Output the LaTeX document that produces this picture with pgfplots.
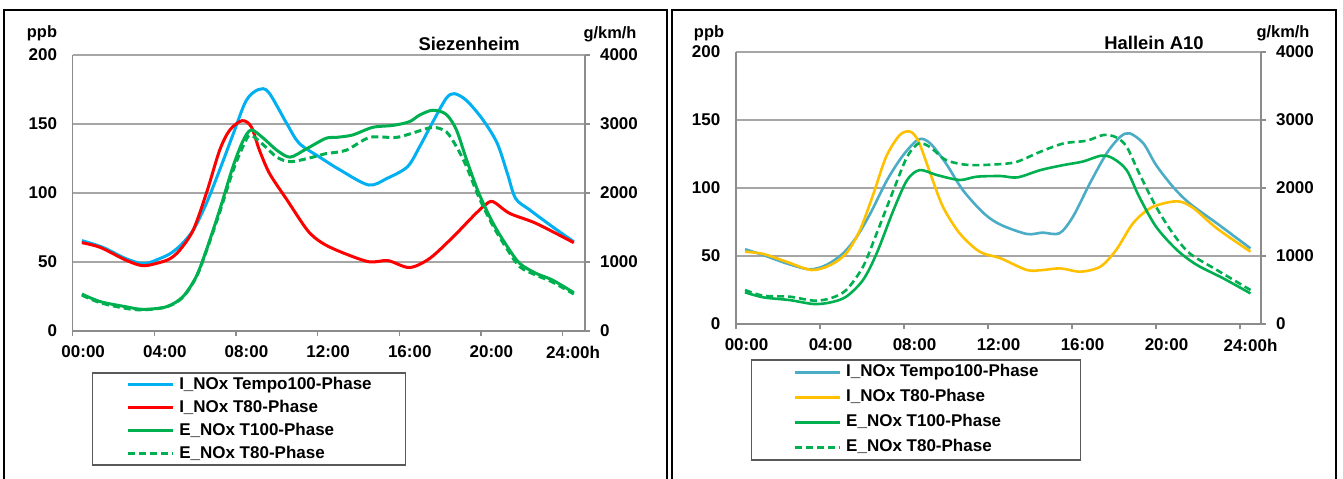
\documentclass[border=0pt]{standalone}
\usepackage{pgfplots}
\pgfplotsset{compat=1.18}
\usepackage{fontspec}
\setmainfont{Liberation Sans}

\definecolor{lblue}{HTML}{00B0F0}
\definecolor{lred}{HTML}{FF0000}
\definecolor{egreen}{HTML}{00B050}
\definecolor{rteal}{HTML}{4BACC6}
\definecolor{ryellow}{HTML}{FFC000}
\definecolor{axgray}{HTML}{8C8C8C}
\definecolor{grgray}{HTML}{A6A6A6}

\pgfplotsset{
  base/.style={
    scale only axis, xmin=0, ymin=0,
    tick label style={font=\bfseries\fontsize{8.5}{10}\selectfont},
    /pgf/number format/assume math mode=true,
    /pgf/number format/1000 sep={},
    axis line style={draw=axgray, line width=0.6pt},
    every tick/.style={draw=axgray, line width=0.6pt},
    major tick length=2.5pt,
    tick align=outside,
  },
  lower/.style={
    axis x line*=bottom, axis y line*=left,
    xtick={0,4,...,24},
    xticklabels={00:00,04:00,08:00,12:00,16:00,20:00,24:00h},
    xticklabel style={xshift=5.25pt, yshift=-1.5pt},
    ytick={0,50,...,200}, ymax=200,
    ytick style={draw=none},
    yticklabel style={xshift=-1.8pt},
    ymajorgrids, grid style={draw=grgray, line width=0.6pt},
  },
  upper/.style={
    axis x line=none, axis y line*=right,
    ytick={0,1000,...,4000}, ymax=4000,
    yticklabel style={xshift=1.5pt},
    legend cell align=left,
    legend image code/.code={\draw[##1] (0pt,0pt) -- (22.5pt,0pt); \path (25pt,0pt);},
  },
  sm/.style={smooth, tension=0.5},
}

\begin{document}
\begin{tikzpicture}
\path[use as bounding box] (0,0) rectangle (671.5pt,-239pt);
\draw[line width=1pt] (2pt,-240pt) -- (2pt,-5pt) -- (333.5pt,-5pt) -- (333.5pt,-240pt);
\draw[line width=1pt] (336pt,-240pt) -- (336pt,-5pt) -- (668pt,-5pt) -- (668pt,-240pt);

% ---------------- Siezenheim ----------------
\begin{axis}[base, lower, at={(36.35pt,-165.5pt)}, anchor=south west,
  width=256.15pt, height=138pt, xmax=25.1]
% I_NOx Tempo100-Phase
\addplot[draw=lblue, line width=1.5pt, sm] coordinates {
 (0.45,65.5) (1.5,60.5) (2.6,52.5) (3.5,48.8) (4.3,52.7) (4.8,56.3) (5.3,62.3) (5.9,73)
 (6.55,92.5) (7.2,116.7) (7.87,143) (8.5,167) (9.1,175) (9.6,173) (10.5,150) (11.1,136)
 (12.1,126) (13.1,116.7) (14.5,105.8) (15.4,110.6) (16.4,119) (17.0,133.6) (17.65,151.7)
 (18.3,168.6) (18.7,172) (19.3,167) (20.1,153) (20.8,136) (21.3,114) (21.7,96) (22.4,87.7)
 (23.5,75.6) (24.55,64.7)
};
% I_NOx T80-Phase
\addplot[draw=lred, line width=1.5pt, sm] coordinates {
 (0.45,64) (1.35,60.6) (2.6,51.4) (3.45,47.3) (4.3,49.8) (4.8,52.7) (5.25,58.7) (5.9,73)
 (6.55,99.8) (7.2,131) (7.7,145.7) (8.3,152.4) (8.75,148) (9.15,131) (9.65,114) (10.5,95)
 (11.5,73) (12.2,64) (13.1,57.5) (14.5,50.2) (15.45,51) (16.5,46) (17.5,52.7) (18.65,68.4)
 (19.6,82.9) (20.2,91.3) (20.6,93.7) (21.4,85.3) (22.7,78) (24.55,64)
};
\end{axis}

\begin{axis}[base, upper, at={(36.35pt,-165.5pt)}, anchor=south west,
  width=256.15pt, height=138pt, xmax=25.1,
  legend style={at={(0.037,-0.15)}, anchor=north west,
    draw=gray!70!black, line width=0.6pt, fill=white,
    inner xsep=17pt, inner ysep=1.5pt, row sep=3pt,
    font=\bfseries\fontsize{8.5}{10}\selectfont,
    nodes={inner sep=0pt, text height=6.5pt, text depth=2pt}}]
\addlegendimage{draw=lblue, line width=1.5pt}
\addlegendentry{I\_NOx Tempo100-Phase}
\addlegendimage{draw=lred, line width=1.5pt}
\addlegendentry{I\_NOx T80-Phase}
% E_NOx T100-Phase (g/km/h)
\addplot[draw=egreen, line width=1.5pt, sm] coordinates {
 (0.45,536) (1.35,426) (2.6,352) (3.45,314) (4.6,352) (5.4,498) (6.05,788) (6.55,1174)
 (7.2,1754) (7.85,2380) (8.35,2760) (8.75,2914) (9.35,2792) (10,2620) (10.65,2520)
 (11.45,2640) (12.4,2792) (12.9,2806) (13.7,2840) (14.7,2952) (15.7,2980) (16.5,3034)
 (17.0,3130) (17.65,3200) (18.3,3140) (18.8,2914) (19.3,2480) (19.9,1996) (20.6,1560)
 (21.3,1220) (21.9,980) (22.7,836) (23.5,740) (24.55,556)
};
\addlegendentry{E\_NOx T100-Phase}
% E_NOx T80-Phase (g/km/h)
\addplot[draw=egreen, line width=1.5pt, dash pattern=on 3.5pt off 2pt, sm] coordinates {
 (0.45,520) (1.35,410) (2.6,328) (3.45,306) (4.6,350) (5.4,490) (6.05,780) (6.55,1160)
 (7.2,1720) (7.85,2320) (8.35,2680) (8.7,2840) (9.35,2696) (10,2520) (10.65,2454)
 (11.5,2500) (12.4,2570) (13.4,2620) (14.55,2806) (15.86,2806) (16.85,2888) (17.65,2952)
 (18.3,2888) (18.8,2672) (19.3,2380) (19.9,1940) (20.6,1520) (21.3,1180) (21.9,932)
 (22.7,810) (23.5,710) (24.55,536)
};
\addlegendentry{E\_NOx T80-Phase}
\end{axis}

% ---------------- Hallein A10 ----------------
\begin{axis}[base, lower, at={(368pt,-162pt)}, anchor=south west,
  width=262.5pt, height=136pt, xmax=25]
% I_NOx Tempo100-Phase
\addplot[draw=rteal, line width=1.3pt, sm] coordinates {
 (0.43,55) (1.3,50.7) (2.4,44.6) (3.5,40.2) (4.3,43.4) (5.1,52) (5.75,64.2) (6.4,81.4)
 (7.2,106) (7.97,124.3) (8.7,135.8) (9.25,132.8) (10,118) (10.8,98.5) (11.8,81.4)
 (12.6,73) (13.85,66.2) (14.6,67.2) (15.4,66.7) (16.05,79) (16.85,103.4) (17.65,125.5)
 (18.3,137.7) (18.75,140.2) (19.4,132.8) (20.0,117) (20.8,101) (21.6,88.7) (22.9,74)
 (24.5,55.6)
};
% I_NOx T80-Phase
\addplot[draw=ryellow, line width=1.3pt, sm] coordinates {
 (0.43,53.2) (1.3,51.5) (2.4,45.8) (3.6,39.7) (4.5,43.4) (5.25,52) (5.9,69) (6.55,96)
 (7.15,123) (7.8,139) (8.3,141.4) (8.7,134) (9.25,110.8) (9.85,86.3) (10.65,66.7)
 (11.6,53.2) (12.6,48.3) (13.85,39.7) (14.6,39.7) (15.45,40.9) (16.4,38.5) (17.35,42.2)
 (18.1,54.4) (18.9,74) (19.7,85) (20.5,89.2) (21.15,90) (21.8,85) (22.9,70.3) (24.5,53.2)
};
\end{axis}

\begin{axis}[base, upper, at={(368pt,-162pt)}, anchor=south west,
  width=262.5pt, height=136pt, xmax=25,
  legend style={at={(0.0286,-0.13)}, anchor=north west,
    draw=gray!70!black, line width=0.6pt, fill=white,
    inner xsep=21pt, inner ysep=2pt, row sep=4pt,
    font=\bfseries\fontsize{8.5}{10}\selectfont,
    nodes={inner sep=0pt, text height=6.5pt, text depth=2pt}}]
\addlegendimage{draw=rteal, line width=1.3pt}
\addlegendentry{I\_NOx Tempo100-Phase}
\addlegendimage{draw=ryellow, line width=1.3pt}
\addlegendentry{I\_NOx T80-Phase}
% E_NOx T100-Phase (g/km/h)
\addplot[draw=egreen, line width=1.3pt, sm] coordinates {
 (0.43,466) (1.3,392) (2.55,352) (3.7,294) (4.5,318) (5.25,402) (6.05,648) (6.7,1040)
 (7.5,1676) (8.15,2118) (8.75,2264) (9.55,2192) (10.65,2118) (11.45,2166) (12.6,2176)
 (13.4,2156) (14.5,2264) (15.6,2338) (16.5,2388) (17.4,2476) (17.95,2436) (18.6,2264)
 (19.2,1872) (20.0,1432) (21.0,1088) (21.95,868) (23.2,672) (24.5,450)
};
\addlegendentry{E\_NOx T100-Phase}
% E_NOx T80-Phase (g/km/h)
\addplot[draw=egreen, line width=1.3pt, dash pattern=on 3.5pt off 2pt, sm] coordinates {
 (0.43,500) (1.3,416) (2.55,402) (3.7,344) (4.5,378) (5.25,500) (6.05,844) (6.7,1334)
 (7.5,1970) (8.15,2460) (8.7,2656) (9.25,2600) (10.0,2412) (11.1,2338) (12.6,2352)
 (13.4,2388) (14.5,2534) (15.6,2656) (16.7,2696) (17.5,2780) (18.1,2746) (18.6,2608)
 (19.2,2216) (20.0,1726) (20.8,1334) (21.6,1040) (22.9,794) (24.5,500)
};
\addlegendentry{E\_NOx T80-Phase}
\end{axis}

% units and titles
\begin{scope}[font=\bfseries\fontsize{8.2}{10}\selectfont]
\node at (21pt,-16.5pt) {ppb};
\node at (305pt,-17.25pt) {g/km/h};
\node at (354.5pt,-16.5pt) {ppb};
\node at (641.5pt,-16.5pt) {g/km/h};
\end{scope}
\node[font=\bfseries\fontsize{9.2}{11}\selectfont] at (234.6pt,-22pt) {Siezenheim};
\node[font=\bfseries\fontsize{9.2}{11}\selectfont] at (577pt,-21.5pt) {Hallein A10};
\end{tikzpicture}
\end{document}
